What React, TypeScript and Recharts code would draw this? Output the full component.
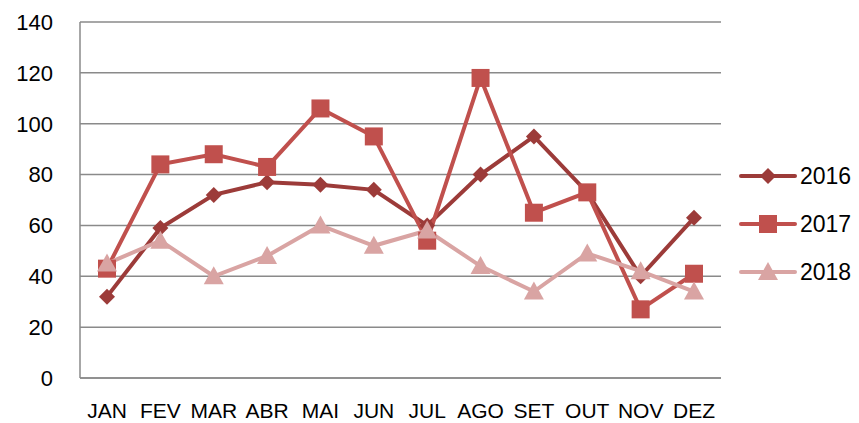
import { LineChart, Line, XAxis, YAxis, CartesianGrid } from 'recharts';

const months = ['JAN', 'FEV', 'MAR', 'ABR', 'MAI', 'JUN', 'JUL', 'AGO', 'SET', 'OUT', 'NOV', 'DEZ'];
const y2016 = [32, 59, 72, 77, 76, 74, 60, 80, 95, 73, 40, 63];
const y2017 = [43, 84, 88, 83, 106, 95, 54, 118, 65, 73, 27, 41];
const y2018 = [45, 54, 40, 48, 60, 52, 58, 44, 34, 49, 42, 34];
const yTicks = [0, 20, 40, 60, 80, 100, 120, 140];

const data = months.map((m, i) => ({ month: m, a: y2016[i], b: y2017[i], c: y2018[i] }));

const series = [
    { key: 'a', name: '2016', color: '#9c3b39', shape: 'diamond' },
    { key: 'b', name: '2017', color: '#c0504d', shape: 'square' },
    { key: 'c', name: '2018', color: '#d9a4a3', shape: 'triangle' },
];

const font = 'Liberation Sans, Arial, sans-serif';

const Marker = ({ cx, cy, shape, color }: any) => {
    if (cx == null || cy == null) return null;
    if (shape === 'diamond') {
        const r = 8;
        return <path d={`M${cx},${cy - r}L${cx + r},${cy}L${cx},${cy + r}L${cx - r},${cy}Z`} fill={color} />;
    }
    if (shape === 'square') {
        const s = 9;
        return <rect x={cx - s} y={cy - s} width={s * 2} height={s * 2} fill={color} />;
    }
    const r = 10;
    return <path d={`M${cx},${cy - r}L${cx + r},${cy + 8}L${cx - r},${cy + 8}Z`} fill={color} />;
};

const dotFor = (shape: string, color: string) => (props: any) => (
    <Marker key={props.index} cx={props.cx} cy={props.cy} shape={shape} color={color} />
);

const LegendBox = () => (
    <div style={{ position: 'absolute', left: 738, top: 152, fontFamily: font, fontSize: 23 }}>
        {series.map((s) => (
            <div key={s.key} style={{ display: 'flex', alignItems: 'center', height: 48 }}>
                <svg width={60} height={24}>
                    <line x1={3} y1={12} x2={57} y2={12} stroke={s.color} strokeWidth={4} strokeLinecap="round" />
                    <Marker cx={30} cy={12} shape={s.shape} color={s.color} />
                </svg>
                <span style={{ marginLeft: 2 }}>{s.name}</span>
            </div>
        ))}
    </div>
);

export default function App() {
    return (
        <div style={{ position: 'absolute', left: 0, top: 0, width: 859, height: 423, background: '#fff' }}>
            <LineChart width={859} height={423} data={data} margin={{ top: 22, right: 138, bottom: 0, left: 0 }}>
                <CartesianGrid vertical={false} stroke="#8a8a8a" strokeWidth={1.5} />
                <XAxis
                    dataKey="month"
                    height={45}
                    padding={{ left: 27, right: 27 }}
                    tickLine={false}
                    axisLine={{ stroke: '#8a8a8a', strokeWidth: 1.5 }}
                    tick={{ fill: '#000', fontSize: 21, fontFamily: font, dy: 17 }}
                    interval={0}
                />
                <YAxis
                    width={80}
                    domain={[0, 140]}
                    ticks={yTicks}
                    tickLine={false}
                    axisLine={{ stroke: '#8a8a8a', strokeWidth: 1.5 }}
                    tick={{ fill: '#000', fontSize: 22, fontFamily: font, dx: -19 }}
                />
                {series.map((s) => (
                    <Line
                        key={s.key}
                        type="linear"
                        dataKey={s.key}
                        name={s.name}
                        stroke={s.color}
                        strokeWidth={4}
                        dot={dotFor(s.shape, s.color)}
                        activeDot={false}
                        isAnimationActive={false}
                    />
                ))}
            </LineChart>
            <LegendBox />
        </div>
    );
}
